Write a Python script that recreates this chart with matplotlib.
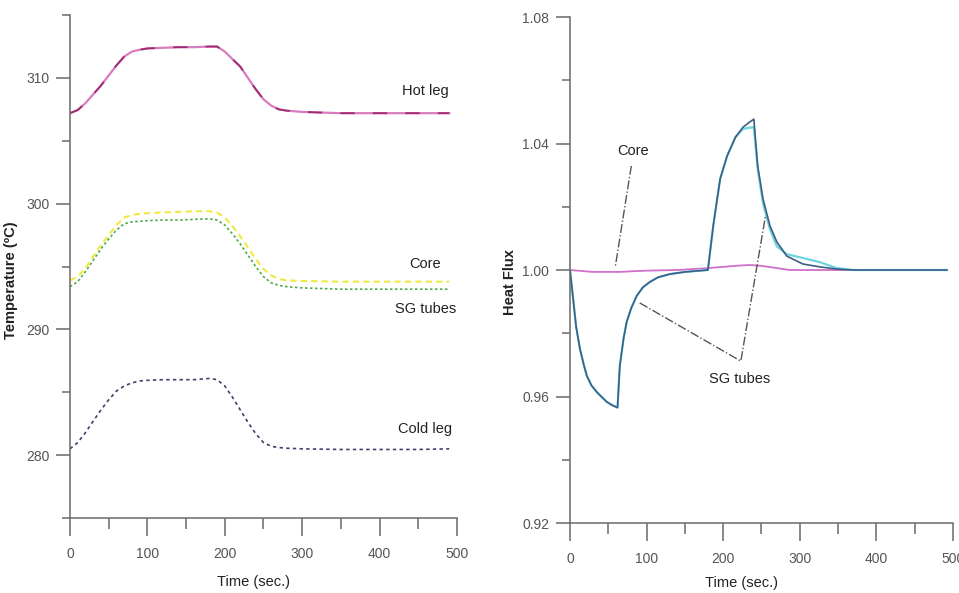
import matplotlib
matplotlib.use("Agg")
import matplotlib.pyplot as plt
from matplotlib.ticker import MultipleLocator, FixedFormatter, FixedLocator

plt.rcParams['font.family'] = ['Liberation Sans', 'DejaVu Sans']

# temperature transient (left)
t_temp = [0, 10, 20, 30, 40, 50, 60, 70, 80, 90, 100, 120, 140, 160, 180,
          190, 200, 210, 220, 230, 240, 250, 260, 270, 280, 300, 350, 400, 450, 490]
hot_leg = [307.2, 307.45, 308.0, 308.7, 309.4, 310.2, 311.0, 311.7, 312.1, 312.25,
           312.35, 312.4, 312.45, 312.45, 312.5, 312.5, 312.1, 311.5, 310.9, 310.0,
           309.1, 308.3, 307.8, 307.5, 307.4, 307.3, 307.2, 307.2, 307.2, 307.2]
core_temp = [293.9, 294.2, 294.9, 295.8, 296.7, 297.5, 298.3, 298.9, 299.1, 299.2,
             299.25, 299.3, 299.35, 299.4, 299.4, 299.3, 298.9, 298.2, 297.4, 296.5,
             295.6, 294.8, 294.3, 294.0, 293.9, 293.85, 293.8, 293.8, 293.8, 293.8]
sg_temp = [293.4, 293.8, 294.6, 295.5, 296.4, 297.2, 297.9, 298.4, 298.55, 298.6,
           298.65, 298.7, 298.7, 298.75, 298.8, 298.7, 298.3, 297.6, 296.8, 295.9,
           295.0, 294.2, 293.7, 293.5, 293.4, 293.3, 293.2, 293.2, 293.2, 293.2]
cold_leg = [280.5, 281.0, 281.8, 282.7, 283.6, 284.4, 285.1, 285.5, 285.75, 285.9,
            285.95, 286.0, 286.0, 286.0, 286.1, 286.0, 285.5, 284.6, 283.6, 282.6,
            281.7, 281.0, 280.7, 280.6, 280.55, 280.5, 280.45, 280.45, 280.45, 280.5]

# heat flux transient (right)
t_sg = [0, 4, 8, 13, 18, 22, 28, 35, 42, 48, 54, 60, 62, 65, 70, 74, 80, 87, 95,
        104, 115, 130, 150, 180, 187, 196, 205, 216, 226, 233, 240, 245, 252, 261,
        270, 283, 304, 326, 348, 370, 420, 492]
sg_flux = [1.000, 0.991, 0.982, 0.975, 0.970, 0.9665, 0.9635, 0.9614, 0.9597, 0.9583,
           0.9574, 0.9567, 0.9565, 0.9697, 0.9785, 0.9836, 0.988, 0.9918, 0.9945,
           0.9962, 0.9977, 0.9987, 0.9994, 1.000, 1.014, 1.0288, 1.036, 1.042, 1.0452,
           1.0465, 1.0477, 1.033, 1.0225, 1.014, 1.0089, 1.0044, 1.0019, 1.001,
           1.0003, 1.0, 1.0, 1.0]
sg_flux_2 = [1.000, 0.991, 0.982, 0.975, 0.970, 0.9665, 0.9635, 0.9614, 0.9597, 0.9583,
             0.9574, 0.9567, 0.9565, 0.9697, 0.9785, 0.9836, 0.988, 0.9918, 0.9945,
             0.9962, 0.9977, 0.9987, 0.9994, 1.000, 1.014, 1.0288, 1.036, 1.042, 1.0447,
             1.0449, 1.0452, 1.032, 1.021, 1.013, 1.0075, 1.005, 1.0038, 1.0025,
             1.0006, 1.0, 1.0, 1.0]
t_core = [0, 15, 30, 45, 65, 80, 100, 140, 180, 200, 220, 235, 250, 265, 287, 320, 400, 490]
core_flux = [1.0, 0.9997, 0.9994, 0.9994, 0.9994, 0.9996, 0.9998, 1.0, 1.0006, 1.001,
             1.0014, 1.0016, 1.0013, 1.0008, 1.0, 1.0, 1.0, 1.0]

txt = '#222222'
axc = '#6a6a6a'

fig = plt.figure(figsize=(9.59, 5.93), dpi=100)
ax1 = fig.add_axes([0.073, 0.1265, 0.4035, 0.848])
ax2 = fig.add_axes([0.5944, 0.118, 0.3993, 0.8533])


def style(ax):
    for s in ['top', 'right']:
        ax.spines[s].set_visible(False)
    for s in ['left', 'bottom']:
        ax.spines[s].set_color(axc)
        ax.spines[s].set_linewidth(1.1)
    ax.set_xlim(0, 500)
    ax.xaxis.set_major_locator(MultipleLocator(100))
    ax.xaxis.set_minor_locator(MultipleLocator(50))
    ax.tick_params(axis='x', which='major', direction='out', length=13, width=1.1,
                   color=axc, labelsize=10, labelcolor='#555555', pad=8)
    ax.tick_params(axis='x', which='minor', direction='out', length=8, width=1.1, color=axc)
    ax.tick_params(axis='y', which='major', direction='out', length=10, width=1.1,
                   color=axc, labelsize=10, labelcolor='#555555', pad=5)
    ax.tick_params(axis='y', which='minor', direction='out', length=6, width=1.1, color=axc)


# left: temperatures
ax1.plot(t_temp, hot_leg, color='#d77cc0', lw=1.6)
ax1.plot(t_temp, hot_leg, color='#a02a70', lw=1.3, ls=(0, (8, 10)))
ax1.plot(t_temp, core_temp, color='#f0ea40', lw=1.5, ls=(0, (3, 2)))
ax1.plot(t_temp, sg_temp, color='#4caa4c', lw=1.2, ls=(0, (1.5, 1.5)))
ax1.plot(t_temp, cold_leg, color='#404070', lw=1.2, ls=(0, (2, 2)))
ax1.set_ylim(275, 315)
ax1.yaxis.set_major_locator(FixedLocator([280, 290, 300, 310]))
ax1.yaxis.set_minor_locator(FixedLocator([275, 285, 295, 305, 315]))
style(ax1)
ax1.set_xlabel('Time (sec.)', fontsize=10.5, color=txt)
ax1.xaxis.set_label_coords(0.473, -0.114)
ax1.set_ylabel('Temperature (ºC)', fontsize=10.5, fontweight='bold', color=txt)
ax1.yaxis.set_label_coords(-0.134, 0.473)
for label, yv in [('Hot leg', 309.0), ('Core', 295.2), ('SG tubes', 291.6), ('Cold leg', 282.1)]:
    ax1.text(459, yv, label, fontsize=10.5, color=txt, ha='center', va='center')

# right: heat flux
ax2.plot(t_core, core_flux, color='#d070c8', lw=1.3)
ax2.plot(t_sg, sg_flux_2, color='#6cd4e0', lw=1.6)
ax2.plot(t_sg, sg_flux, color='#3d5f86', lw=1.2)
ax2.set_ylim(0.92, 1.08)
ax2.yaxis.set_major_locator(FixedLocator([0.92, 0.96, 1.00, 1.04, 1.08]))
ax2.yaxis.set_minor_locator(FixedLocator([0.94, 0.98, 1.02, 1.06]))
ax2.yaxis.set_major_formatter(FixedFormatter(['0.92', '0.96', '1.00', '1.04', '1.08']))
style(ax2)
ax2.set_xlabel('Time (sec.)', fontsize=10.5, color=txt)
ax2.xaxis.set_label_coords(0.449, -0.104)
ax2.set_ylabel('Heat Flux', fontsize=10.5, fontweight='bold', color=txt)
ax2.yaxis.set_label_coords(-0.138, 0.476)

# leader lines for the curve labels
lead = dict(color='#555555', lw=1.0, ls='-.')
ax2.plot([80, 59], [1.0329, 1.0009], **lead)
ax2.plot([91, 223, 255], [0.9896, 0.9712, 1.0168], **lead)
ax2.text(82, 1.0376, 'Core', fontsize=10.5, color=txt, ha='center', va='center')
ax2.text(221, 0.9655, 'SG tubes', fontsize=10.5, color=txt, ha='center', va='center')

fig.savefig('out.png', dpi=100, facecolor='white')
